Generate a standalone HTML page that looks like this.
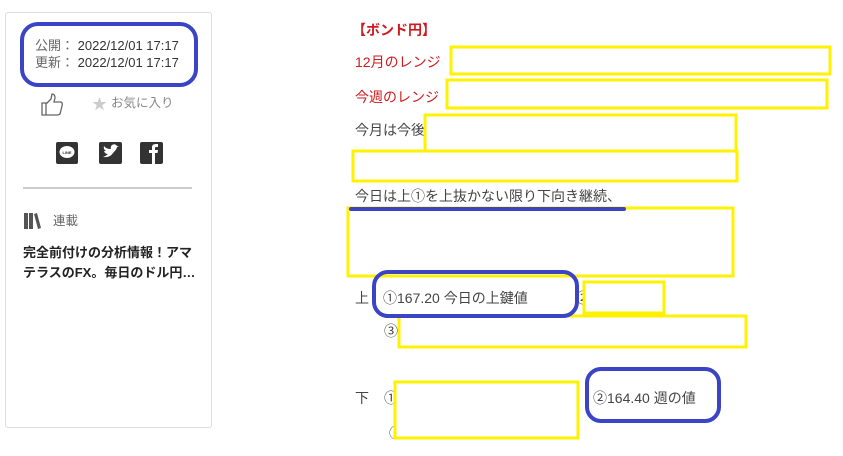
<!DOCTYPE html>
<html><head><meta charset="utf-8"><style>
body{margin:0;width:843px;height:456px;background:#fff;position:relative;overflow:hidden;font-family:"Liberation Sans","Noto Sans CJK JP",sans-serif;}
.t{position:absolute;white-space:nowrap;font-size:14px;line-height:16px;color:#444;}
.r{color:#d0191e}
svg{position:absolute;left:0;top:0}
</style></head><body>
<div style="position:absolute;left:5px;top:12px;width:205px;height:414px;border:1px solid #ddd;border-radius:3px"></div>
<div class="t" style="left:35px;top:38px;font-size:13px;color:#333"><span style="color:#666">公開：</span> 2022/12/01 17:17</div>
<div class="t" style="left:35px;top:55px;font-size:13px;color:#333"><span style="color:#666">更新：</span> 2022/12/01 17:17</div>
<div class="t" style="left:111px;top:95px;font-size:12.5px;color:#888">お気に入り</div>
<div class="t" style="left:53px;top:213px;font-size:12.5px;color:#666">連載</div>
<div class="t" style="left:23px;top:245px;font-weight:bold;color:#222;font-size:13px">完全前付けの分析情報！アマ</div>
<div class="t" style="left:23px;top:265px;font-weight:bold;color:#222;font-size:13px">テラスのFX。毎日のドル円…</div>

<div class="t r" style="left:352px;top:22px;font-weight:bold">【ボンド円】</div>
<div class="t r" style="left:355px;top:54px">12月のレンジ</div>
<div class="t r" style="left:355px;top:89px">今週のレンジ</div>
<div class="t" style="left:355px;top:122px">今月は今後</div>
<div class="t" style="left:355px;top:188px">今日は上①を上抜かない限り下向き継続、</div>
<div class="t" style="left:355px;top:290px">上</div>
<div class="t" style="left:383px;top:290px">①167.20 今日の上鍵値</div>
<div class="t" style="left:576px;top:290px">②</div>
<div class="t" style="left:384px;top:323px">③</div>
<div class="t" style="left:355px;top:390px">下</div>
<div class="t" style="left:384px;top:390px">①</div>
<div class="t" style="left:389px;top:425px">③</div>
<div class="t" style="left:593px;top:390px">②164.40 週の値</div>

<svg width="843" height="456">
<g fill="none" stroke="#fff200" stroke-width="3">
<rect x="451" y="47" width="379" height="27" fill="#fff"/>
<rect x="447" y="80" width="380" height="28" fill="#fff"/>
<rect x="425" y="115" width="311" height="36" fill="#fff"/>
<rect x="353" y="151" width="384" height="30"/>
<rect x="348" y="208" width="385" height="68"/>
<rect x="584" y="282" width="80" height="31" fill="#fff"/>
<rect x="399" y="316" width="347" height="31" fill="#fff"/>
<rect x="395" y="382" width="183" height="56" fill="#fff"/>
</g>
<g fill="none" stroke="#3a44c4" stroke-width="4">
<rect x="22" y="24" width="174" height="61" rx="16"/>
<rect x="374" y="272" width="203" height="44" rx="14"/>
<rect x="587" y="369" width="132" height="52" rx="14"/>
<line x1="351" y1="209" x2="624" y2="209" stroke-linecap="round"/>
</g>
<line x1="23" y1="188" x2="192" y2="188" stroke="#ccc" stroke-width="2"/>
<path d="M42 115 V103 H46 V115 Z M46 104 L51 99 L52 94 Q55 94 55 98 L54 102 H61 Q63 103 62 106 L60 114 Q59 115 57 115 H46" fill="none" stroke="#666" stroke-width="1.3"/>
<text x="92" y="109" font-size="15" fill="#ccc">★</text>
<rect x="56" y="142" width="22" height="22" rx="2" fill="#333"/>
<ellipse cx="67" cy="152" rx="7.5" ry="6" fill="#fff"/>
<text x="67" y="154" font-size="4" fill="#333" text-anchor="middle" font-weight="bold">LINE</text>
<rect x="99" y="142" width="23" height="22" rx="2" fill="#333"/>
<path d="M103 157 Q110 158 113 153 Q117 149 117 147 L119 146 L117 146 Q115 143 112 145 Q110 147 111 149 Q106 149 104 146 Q103 149 106 151 L104 151 Q105 154 108 154 Q106 156 103 157 Z" fill="#fff"/>
<rect x="140" y="142" width="23" height="22" rx="2" fill="#333"/>
<path d="M152 164 V153 H149 V150 H152 V147 Q152 144 156 144 H158 V147 H156 Q155 147 155 148 V150 H158 L157.5 153 H155 V164 Z" fill="#fff"/>
<rect x="24" y="213" width="4" height="16" fill="#555"/>
<rect x="29" y="213" width="4" height="16" fill="#555"/>
<path d="M34 214 L37 213 L41 228 L38 229 Z" fill="#555"/>
</svg>
</body></html>
